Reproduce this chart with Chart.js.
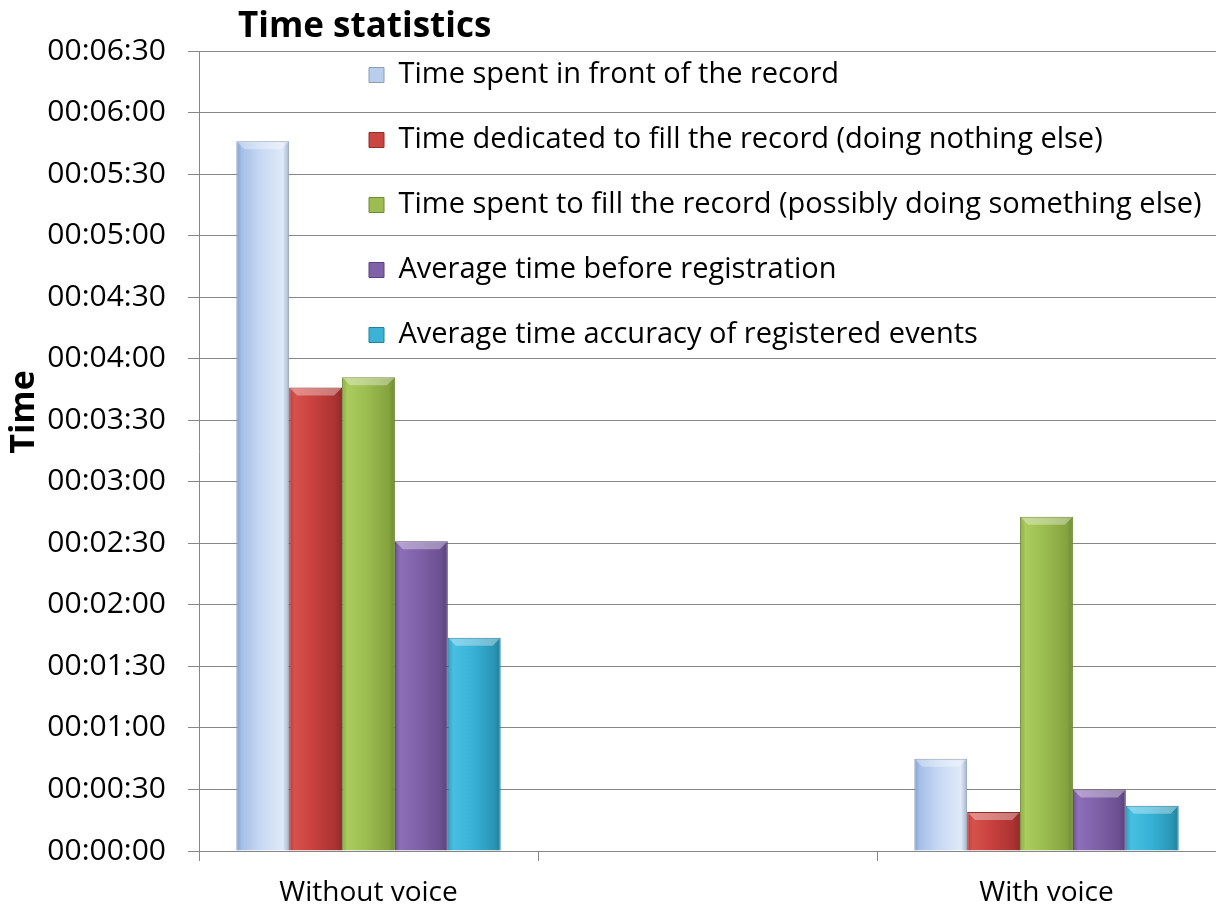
<!DOCTYPE html>
<html>
<head>
<meta charset="utf-8">
<title>Time statistics</title>
<script src="https://cdn.jsdelivr.net/npm/chart.js@4.4.0/dist/chart.umd.min.js"></script>
<style>
    html, body { margin: 0; padding: 0; background: #ffffff; }
    #time-chart { display: block; }
</style>
</head>
<body>
<canvas id="time-chart" width="1216" height="917"></canvas>
<script>
// Time statistics chart =========================================================//

const categories = ['Without voice', '', 'With voice'];

// all values are in seconds
const timeInFront = [346, null, 45];
const timeDedicated = [226, null, 19];
const timeToFill = [231, null, 163];
const timeBeforeRegistration = [151, null, 30];
const timeAccuracy = [104, null, 22];

const seriesNames = [
    'Time spent in front of the record',
    'Time dedicated to fill the record (doing nothing else)',
    'Time spent to fill the record (possibly doing something else)',
    'Average time before registration',
    'Average time accuracy of registered events'
];

const yTickLabels = [
    '00:00:00', '00:00:30', '00:01:00', '00:01:30', '00:02:00', '00:02:30', '00:03:00',
    '00:03:30', '00:04:00', '00:04:30', '00:05:00', '00:05:30', '00:06:00', '00:06:30'
];

const Y_TITLE = 'Time';

const FONT = "'Open Sans'";
const GRID_COLOR = '#868686';

// colours used by the legend boxes
const baseColors = ['#b9cdec', '#c94643', '#9dbd52', '#7f62a8', '#3cb2d6'];
const edgeColors = ['#8c9cb4', '#8f2d2b', '#6f8a34', '#58407a', '#23809c'];

// horizontal shading of every bar, left edge -> right edge
const SHADE_STOPS = [0, 0.1, 0.45, 0.88, 1];
const barShades = [
    ['#7d9fd3', '#a5bfe7', '#c6d8f3', '#dfe9f9', '#a3b3cb'],
    ['#bb3c38', '#d6514c', '#c8413e', '#ab3231', '#8e2a29'],
    ['#8caa45', '#aacb5e', '#9cbd4f', '#85a33e', '#6f8b34'],
    ['#6e5392', '#8d6fb8', '#7f61a8', '#6a4f90', '#58417a'],
    ['#2fa0c1', '#46bfe2', '#38b3d7', '#2995b5', '#207e9a']
];

const seriesData = [timeInFront, timeDedicated, timeToFill, timeBeforeRegistration, timeAccuracy];

const datasets = seriesData.map((values, i) => ({
    label: seriesNames[i],
    data: values,
    backgroundColor: baseColors[i],
    borderColor: edgeColors[i],
    borderWidth: 1,
    categoryPercentage: 0.78,
    barPercentage: 1.0
}));


// gives every bar its own gradient once the positions are known
const barShading = {
    id: 'barShading',
    beforeDatasetsDraw(chart) {
        const ctx = chart.ctx;
        chart.data.datasets.forEach((ds, i) => {
            const meta = chart.getDatasetMeta(i);
            meta.data.forEach(bar => {
                if (!isFinite(bar.x) || !isFinite(bar.width) || bar.width <= 0) return;
                const left = bar.x - bar.width / 2;
                const grad = ctx.createLinearGradient(left, 0, left + bar.width, 0);
                barShades[i].forEach((c, k) => grad.addColorStop(SHADE_STOPS[k], c));
                bar.options = Object.assign({}, bar.options, { backgroundColor: grad });
            });
        });
    },
    // light bevel on the top of each bar
    afterDatasetsDraw(chart) {
        const ctx = chart.ctx;
        chart.data.datasets.forEach((ds, i) => {
            const meta = chart.getDatasetMeta(i);
            meta.data.forEach(bar => {
                if (!isFinite(bar.y) || !isFinite(bar.base) || bar.base - bar.y < 10) return;
                const l = bar.x - bar.width / 2 + 1, r = bar.x + bar.width / 2 - 1, t = bar.y + 1;
                const b = 7;
                ctx.save();
                ctx.fillStyle = 'rgba(255,255,255,0.35)';
                ctx.beginPath();
                ctx.moveTo(l, t);
                ctx.lineTo(r, t);
                ctx.lineTo(r - b, t + b);
                ctx.lineTo(l + b, t + b);
                ctx.closePath();
                ctx.fill();
                ctx.restore();
            });
        });
    }
};

// moves title and legend to where the original has them, draws the y title
const placeBoxes = {
    id: 'placeBoxes',
    beforeDraw(chart) {
        chart.titleBlock.left = 238;
        chart.legend.left = 333;
        chart.legend.top = 24.5;
    },
    afterDraw(chart) {
        const ctx = chart.ctx;
        ctx.save();
        ctx.translate(24, 412);
        ctx.rotate(-Math.PI / 2);
        ctx.font = "bold 34px " + FONT;
        ctx.fillStyle = '#000000';
        ctx.textAlign = 'center';
        ctx.textBaseline = 'middle';
        ctx.fillText(Y_TITLE, 0, 0);
        ctx.restore();
    }
};

const timeCanvas = document.getElementById('time-chart');

const timeConfig = {
    type: 'bar',
    data: {
        labels: categories,
        datasets: datasets
    },
    options: {
        responsive: false,
        animation: false,
        events: [],
        layout: {
            padding: { left: 0, right: 0, top: 0, bottom: 0 }
        },
        plugins: {
            title: {
                display: true,
                text: 'Time statistics',
                align: 'start',
                color: '#000000',
                font: { family: FONT, size: 35, weight: 'bold' },
                padding: { top: 6, bottom: 3.0 }
            },
            legend: {
                display: true,
                position: 'chartArea',
                align: 'start',
                labels: {
                    color: '#000000',
                    font: { family: FONT, size: 29 },
                    boxWidth: 15,
                    boxHeight: 15,
                    padding: 36
                }
            },
            tooltip: { enabled: false }
        },
        scales: {
            x: {
                grid: {
                    offset: true,
                    drawOnChartArea: false,
                    drawTicks: true,
                    tickLength: 10,
                    color: GRID_COLOR
                },
                border: { display: true, color: GRID_COLOR },
                ticks: {
                    color: '#000000',
                    font: { family: FONT, size: 28 },
                    padding: 15,
                    maxRotation: 0,
                    autoSkip: false
                },
                afterFit: (scale) => { scale.height = 66; }
            },
            y: {
                min: 0,
                max: 390,
                grid: {
                    color: GRID_COLOR,
                    tickLength: 11
                },
                border: { display: true, color: GRID_COLOR },
                ticks: {
                    stepSize: 30,
                    color: '#000000',
                    font: { family: FONT, size: 30 },
                    padding: 22,
                    callback: (value, index) => yTickLabels[index]
                },
                afterFit: (scale) => { scale.width = 199; }
            }
        }
    },
    plugins: [barShading, placeBoxes]
};

const timeChart = new Chart(timeCanvas, timeConfig);

// Time statistics chart =========================================================//
</script>
</body>
</html>
